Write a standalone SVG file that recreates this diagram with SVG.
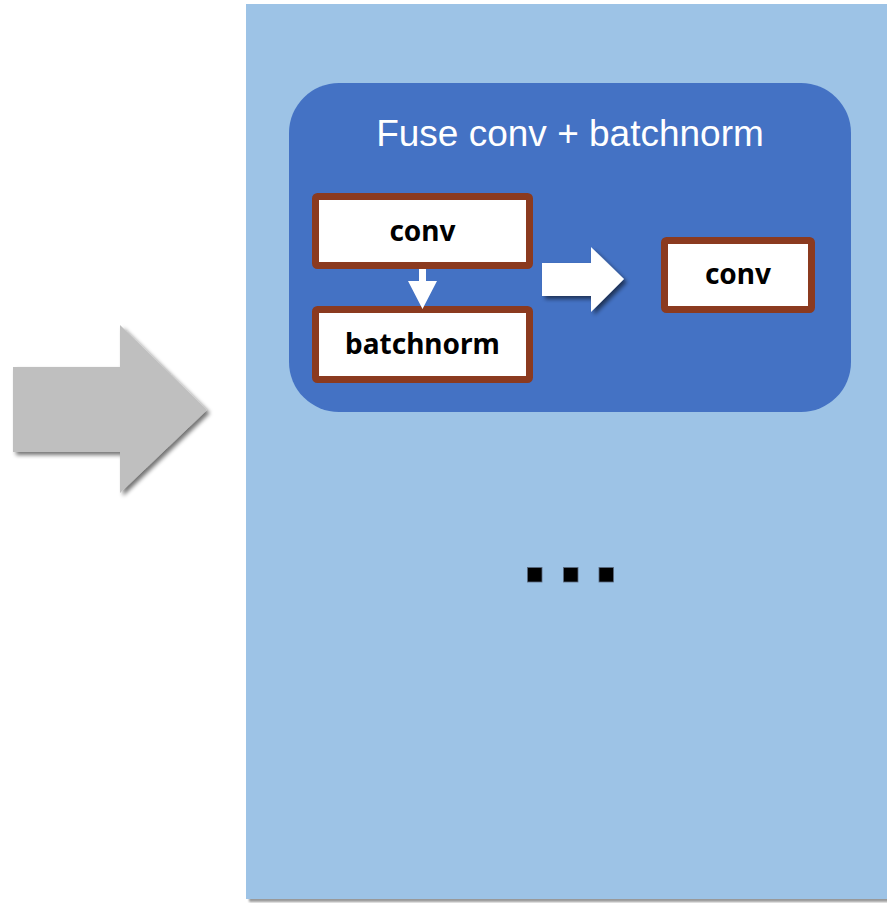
<svg xmlns="http://www.w3.org/2000/svg" width="887" height="903" viewBox="0 0 887 903">
  <defs>
    <filter id="dropShadow" x="-10%" y="-10%" width="130%" height="130%">
      <feGaussianBlur in="SourceAlpha" stdDeviation="2"/>
      <feOffset dx="3" dy="3" result="off"/>
      <feComponentTransfer><feFuncA type="linear" slope="0.55"/></feComponentTransfer>
      <feMerge><feMergeNode/><feMergeNode in="SourceGraphic"/></feMerge>
    </filter>
    <filter id="panelShadow" x="-5%" y="-5%" width="110%" height="110%">
      <feGaussianBlur in="SourceAlpha" stdDeviation="1.2"/>
      <feOffset dx="3" dy="3" result="off"/>
      <feComponentTransfer><feFuncA type="linear" slope="0.4"/></feComponentTransfer>
      <feMerge><feMergeNode/><feMergeNode in="SourceGraphic"/></feMerge>
    </filter>
  </defs>
  <style>
    .op { fill: #ffffff; stroke: #8B3A1F; stroke-width: 7; }
    .opText { font-family: "Noto Sans", "Open Sans", sans-serif; font-weight: bold; font-size: 28px; fill: #000000; text-anchor: middle; }
    .title { font-family: "Liberation Sans", Arial, sans-serif; font-size: 37px; fill: #ffffff; text-anchor: middle; }
    .dot { fill: #000000; stroke: #5a6a80; stroke-width: 0.8; }
  </style>

  <rect width="887" height="903" fill="#ffffff"/>

  <!-- incoming pass arrow -->
  <g id="inputArrow" filter="url(#dropShadow)">
    <polygon points="13,367 120,367 120,325 207,410 120,493 120,452 13,452" fill="#bfbfbf"/>
  </g>

  <!-- pass pipeline panel -->
  <g id="pipelinePanel" filter="url(#panelShadow)">
    <rect x="246" y="4" width="645" height="895" fill="#9dc3e6"/>
  </g>

  <!-- fusion pass group -->
  <g id="fusePass">
    <rect x="289" y="83" width="562" height="329" rx="50" ry="50" fill="#4472c4"/>
    <text class="title" x="570" y="146">Fuse conv + batchnorm</text>
  </g>

  <g id="convNode">
    <rect class="op" x="315.5" y="196.5" width="214" height="69" rx="2"/>
    <text class="opText" x="422.5" y="241">conv</text>
  </g>

  <g id="batchnormNode">
    <rect class="op" x="315.5" y="309.5" width="214" height="70" rx="2"/>
    <text class="opText" x="422.5" y="354">batchnorm</text>
  </g>

  <g id="fusedConvNode">
    <rect class="op" x="664.5" y="240.5" width="147" height="69" rx="2"/>
    <text class="opText" x="738" y="284">conv</text>
  </g>

  <!-- connectors -->
  <g id="connectors">
    <polygon points="419,269 426,269 426,281 437,281 422.5,309 408,281 419,281" fill="#ffffff"/>
    <g filter="url(#dropShadow)">
      <polygon points="542,263 591,263 591,247 624,279 591,312 591,296 542,296" fill="#ffffff"/>
    </g>
  </g>

  <!-- ellipsis: further passes -->
  <g id="ellipsis">
    <rect class="dot" x="527.5" y="567.5" width="14.5" height="14.5"/>
    <rect class="dot" x="563.5" y="567.5" width="14.5" height="14.5"/>
    <rect class="dot" x="599" y="567.5" width="14.5" height="14.5"/>
  </g>
</svg>
